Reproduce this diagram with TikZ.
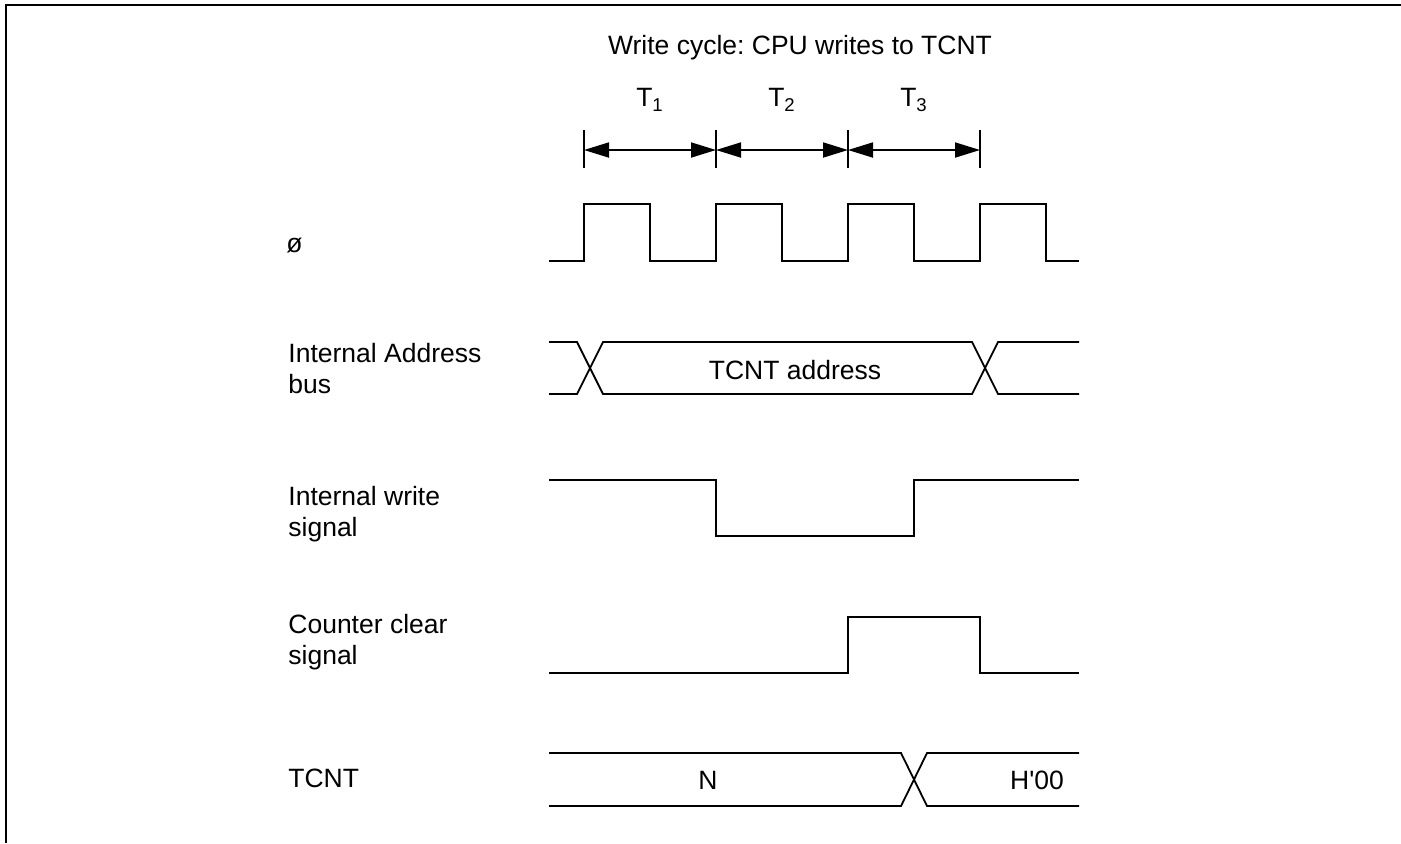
\documentclass[tikz,border=0pt]{standalone}
\usepackage{fontspec}
\setmainfont{Liberation Sans}
\usetikzlibrary{arrows.meta}
\frenchspacing

\tikzset{
  wave/.style={line width=0.9pt, line join=miter},
  lbl/.style={anchor=west, align=left, inner sep=0pt, font=\fontsize{13.25}{15.5}\selectfont},
  txt/.style={inner sep=0pt, font=\fontsize{13.25}{15}\selectfont},
  dim/.style={line width=0.9pt, {Triangle[length=12.5pt,width=7.5pt]}-{Triangle[length=12.5pt,width=7.5pt]}},
}

\begin{document}
\begin{tikzpicture}[x=0.5pt,y=-0.5pt]
\useasboundingbox (0,0) rectangle (1401,843);
% frame, only top and left edges are seen
\draw[line width=1.1pt] (6,843) -- (6,5) -- (1401,5);

\node[txt] (title) at (800,48) {Write cycle: CPU writes to TCNT};

% bus cycle states
\foreach \n/\x in {0/584,1/716,2/848,3/980} {
  \draw[wave] (\x,130) -- (\x,168);
  \coordinate (t\n) at (\x,150);
}
\draw[dim] (t0) -- (t1);
\draw[dim] (t1) -- (t2);
\draw[dim] (t2) -- (t3);
\node[txt] (T1) at (650,100) {T\textsubscript{1}};
\node[txt] (T2) at (782,100) {T\textsubscript{2}};
\node[txt] (T3) at (914,100) {T\textsubscript{3}};

% signal names
\node[lbl] (phi) at (286,246) {ø};
\node[lbl] (addr) at (288,369) {Internal Address\\bus};
\node[lbl] (wr) at (288,514) {Internal write\\signal};
\node[lbl] (clr) at (288,642) {Counter clear\\signal};
\node[lbl] (tcnt) at (288,778) {TCNT};

% clock
\draw[wave] (549,261) \foreach \x in {584,716,848,980} {
  -- (\x,261) -- (\x,204) -- (\x+66,204) -- (\x+66,261)} -- (1079,261);

% address bus
\draw[wave] (549,342) -- (577,342) -- (603,394) -- (972,394) -- (998,342) -- (1079,342);
\draw[wave] (549,394) -- (577,394) -- (603,342) -- (972,342) -- (998,394) -- (1079,394);
\node[txt] (addrval) at (795,370) {TCNT address};

% write strobe
\draw[wave] (549,480) -- (716,480) -- (716,536) -- (914,536) -- (914,480) -- (1079,480);

% counter clear
\draw[wave] (549,673) -- (848,673) -- (848,617) -- (980,617) -- (980,673) -- (1079,673);

% counter
\draw[wave] (549,753) -- (901,753) -- (927,806) -- (1079,806);
\draw[wave] (549,806) -- (901,806) -- (927,753) -- (1079,753);
\node[txt] (nval) at (708,780) {N};
\node[txt] (zval) at (1037,780) {H\textquotesingle 00};
\end{tikzpicture}
\end{document}
